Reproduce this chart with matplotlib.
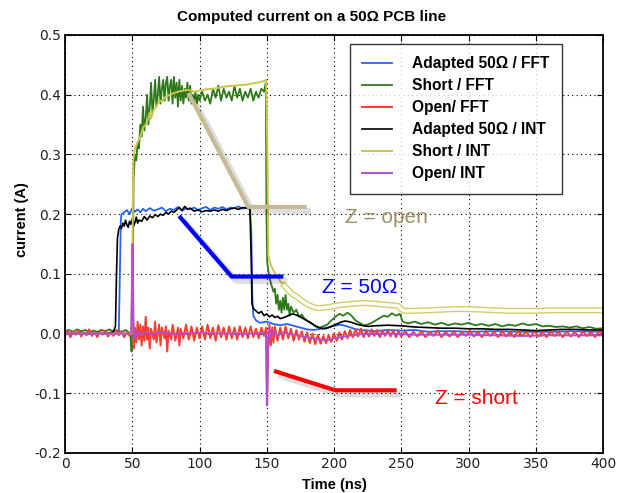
import matplotlib
matplotlib.use('Agg')
import matplotlib.pyplot as plt
import matplotlib.patheffects as pe
import numpy as np

# ---------------- data (time in ns, current in A) ----------------
adapted_fft = [(0, 0.0), (10, 0.001), (20, 0.0), (30, 0.001), (38, 0.002), (40, 0.003), (40.8, 0.1),
               (41.5, 0.19), (42, 0.2), (44, 0.203), (46, 0.207), (48, 0.2), (50, 0.21), (52, 0.204),
               (54, 0.208), (56, 0.203), (58, 0.209), (60, 0.205), (63, 0.21), (66, 0.206), (69, 0.208),
               (72, 0.211), (75, 0.205), (78, 0.209), (81, 0.207), (84, 0.212), (87, 0.206), (90, 0.21),
               (93, 0.208), (96, 0.211), (99, 0.207), (102, 0.21), (105, 0.212), (108, 0.207), (111, 0.211),
               (114, 0.209), (117, 0.212), (120, 0.208), (123, 0.211), (126, 0.21), (129, 0.213),
               (132, 0.209), (135, 0.212), (137.5, 0.21), (138.5, 0.17), (139.3, 0.06), (140, 0.03),
               (142, 0.022), (145, 0.018), (150, 0.02), (155, 0.016), (160, 0.014), (165, 0.016),
               (170, 0.013), (175, 0.01), (180, 0.007), (185, 0.006), (190, 0.008), (195, 0.01),
               (200, 0.013), (205, 0.015), (210, 0.012), (215, 0.008), (220, 0.006), (230, 0.004),
               (240, 0.006), (250, 0.005), (260, 0.006), (270, 0.003), (280, 0.004), (290, 0.004),
               (300, 0.003), (320, 0.004), (340, 0.003), (360, 0.003), (380, 0.004), (400, 0.003)]

short_fft = [(0, 0.004), (3, 0.006), (6, 0.003), (9, 0.007), (12, 0.004), (15, 0.006), (18, 0.002),
             (21, 0.005), (24, 0.003), (27, 0.006), (30, 0.004), (33, 0.007), (36, 0.003), (39, 0.005),
             (42, 0.002), (45, 0.006), (47, 0.003), (48.5, 0.0), (49.5, -0.03), (50.3, 0.05), (51, 0.26),
             (52, 0.3), (53, 0.29), (54, 0.32), (55, 0.31), (56, 0.35), (57, 0.33), (58, 0.38), (59, 0.34),
             (60, 0.36), (61, 0.4), (62, 0.35), (63, 0.38), (64, 0.42), (65, 0.37), (66, 0.39), (67, 0.425),
             (68, 0.38), (69, 0.4), (70, 0.43), (71, 0.385), (72, 0.41), (73, 0.425), (74, 0.39), (75, 0.42),
             (76, 0.43), (77, 0.39), (78, 0.415), (79, 0.425), (80, 0.385), (81, 0.43), (82, 0.395),
             (83, 0.42), (84, 0.38), (85, 0.425), (86, 0.39), (87, 0.415), (88, 0.385), (89, 0.41),
             (90, 0.395), (91, 0.42), (92, 0.39), (93, 0.415), (94, 0.385), (95, 0.40), (96, 0.39),
             (97, 0.405), (98, 0.385), (99, 0.4), (100, 0.39), (102, 0.405), (104, 0.39), (106, 0.4),
             (108, 0.385), (110, 0.41), (112, 0.395), (114, 0.415), (116, 0.39), (118, 0.41), (120, 0.395),
             (122, 0.405), (124, 0.39), (126, 0.415), (128, 0.395), (130, 0.41), (132, 0.39), (134, 0.405),
             (136, 0.395), (138, 0.41), (140, 0.39), (142, 0.405), (144, 0.395), (146, 0.41), (148, 0.405),
             (149.3, 0.42), (149.8, 0.2), (150.3, 0.12), (151.5, 0.1), (153, 0.085), (155, 0.07),
             (156, 0.075), (157, 0.05), (158, 0.065), (159, 0.04), (160, 0.055), (161, 0.035), (162, 0.06),
             (163, 0.04), (164, 0.065), (165, 0.04), (166, 0.05), (167, 0.03), (168, 0.045), (170, 0.035),
             (172, 0.04), (174, 0.028), (176, 0.032), (178, 0.025), (180, 0.022), (183, 0.018), (186, 0.012),
             (189, 0.01), (192, 0.012), (195, 0.015), (198, 0.022), (201, 0.028), (204, 0.033), (207, 0.03),
             (210, 0.035), (213, 0.03), (216, 0.022), (219, 0.018), (222, 0.014), (225, 0.015), (228, 0.018),
             (231, 0.022), (234, 0.026), (237, 0.03), (240, 0.028), (243, 0.034), (246, 0.03), (249, 0.033),
             (251, 0.02), (255, 0.017), (260, 0.02), (265, 0.016), (270, 0.019), (275, 0.015), (280, 0.018),
             (285, 0.014), (290, 0.017), (295, 0.015), (300, 0.018), (305, 0.014), (310, 0.016),
             (315, 0.013), (320, 0.016), (325, 0.012), (330, 0.015), (335, 0.013), (340, 0.017),
             (345, 0.014), (350, 0.016), (355, 0.012), (360, 0.013), (365, 0.011), (370, 0.012),
             (375, 0.01), (380, 0.012), (385, 0.009), (390, 0.011), (395, 0.008), (400, 0.009)]

open_fft = [(0, -0.004), (2, 0.005), (4, -0.006), (6, 0.003), (8, -0.002), (10, 0.006), (12, -0.005),
            (14, 0.002), (16, -0.003), (18, 0.007), (20, -0.004), (22, 0.003), (24, -0.006), (26, 0.004),
            (28, -0.002), (30, 0.005), (32, -0.005), (34, 0.003), (36, -0.004), (38, 0.006), (40, -0.003),
            (42, 0.004), (44, -0.006), (46, 0.003), (48, -0.004), (49.5, 0.0), (50, 0.14), (50.6, 0.02),
            (51.2, -0.025), (52, 0.01), (53, -0.015), (54, 0.02), (55, -0.01), (56, 0.015), (57, -0.02),
            (58, 0.012), (59, -0.012), (60, 0.028), (61, -0.01), (62, 0.01), (63, -0.025), (64, 0.008),
            (66, -0.01), (67, 0.02), (68, -0.015), (70, 0.015), (71, -0.02), (72, 0.01), (74, -0.008),
            (75, 0.012), (76, -0.03), (77, 0.005), (79, -0.01), (80, 0.015), (82, -0.012), (84, 0.01),
            (85, -0.02), (86, 0.008), (88, -0.008), (90, 0.015), (92, -0.01), (94, 0.012), (96, -0.012),
            (98, 0.01), (100, -0.008), (102, 0.012), (104, -0.01), (106, 0.015), (108, -0.008), (110, 0.01),
            (112, -0.012), (114, 0.014), (116, -0.006), (118, 0.01), (120, -0.01), (122, 0.012),
            (124, -0.008), (126, 0.01), (128, -0.01), (130, 0.012), (132, -0.006), (134, 0.01),
            (136, -0.008), (138, 0.012), (140, -0.006), (142, 0.008), (144, -0.008), (146, 0.01),
            (148, -0.004), (149.5, 0.01), (150.3, -0.12), (151, -0.03), (152, 0.015), (153, -0.02),
            (154, 0.01), (155, -0.015), (156, 0.012), (158, -0.012), (160, 0.01), (162, -0.01), (164, 0.012),
            (166, -0.008), (168, 0.008), (170, -0.012), (172, 0.006), (174, -0.01), (176, 0.004),
            (178, -0.014), (180, 0.002), (182, -0.016), (184, 0.0), (186, -0.018), (188, -0.002),
            (190, -0.017), (192, -0.004), (194, -0.016), (196, -0.003), (198, -0.014), (200, 0.0),
            (202, -0.012), (204, 0.002), (206, -0.01), (208, 0.004), (210, -0.008), (212, 0.006),
            (214, -0.006), (216, 0.007), (218, -0.005), (220, 0.008), (222, -0.006), (224, 0.006),
            (226, -0.005), (228, 0.007), (230, -0.004), (232, 0.006), (234, -0.006), (236, 0.005),
            (238, -0.004), (240, 0.006), (242, -0.005), (244, 0.005), (246, -0.006), (248, 0.004),
            (250, -0.005), (253, 0.004), (256, -0.006), (259, 0.003), (262, -0.005), (265, 0.004),
            (268, -0.006), (271, 0.003), (274, -0.004), (277, 0.005), (280, -0.006), (283, 0.003),
            (286, -0.005), (289, 0.004), (292, -0.006), (295, 0.003), (298, -0.004), (301, 0.005),
            (304, -0.005), (307, 0.003), (310, -0.006), (313, 0.004), (316, -0.004), (319, 0.003),
            (322, -0.006), (325, 0.004), (328, -0.005), (331, 0.003), (334, -0.006), (337, 0.004),
            (340, -0.004), (343, 0.003), (346, -0.006), (349, 0.004), (352, -0.005), (355, 0.003),
            (358, -0.006), (361, 0.004), (364, -0.004), (367, 0.003), (370, -0.006), (373, 0.004),
            (376, -0.005), (379, 0.003), (382, -0.006), (385, 0.004), (388, -0.004), (391, 0.003),
            (394, -0.006), (397, 0.004), (400, -0.004)]

adapted_int = [(0, 0.0), (10, 0.0), (20, 0.0), (30, 0.0), (35, 0.001), (36.5, 0.006), (37.5, 0.012),
               (38.3, 0.1), (39, 0.16), (40, 0.175), (41, 0.18), (42, 0.176), (43, 0.185), (44, 0.18),
               (45, 0.19), (46, 0.182), (47, 0.178), (48, 0.188), (49, 0.183), (50, 0.192), (51, 0.18),
               (52, 0.186), (53, 0.195), (54, 0.185), (55, 0.19), (57, 0.188), (59, 0.196), (61, 0.19),
               (63, 0.197), (65, 0.194), (67, 0.199), (69, 0.196), (71, 0.2), (73, 0.198), (75, 0.203),
               (77, 0.2), (79, 0.205), (81, 0.203), (83, 0.207), (85, 0.211), (87, 0.206), (89, 0.213),
               (91, 0.208), (93, 0.21), (96, 0.205), (99, 0.207), (102, 0.204), (105, 0.206), (108, 0.205),
               (111, 0.207), (114, 0.205), (117, 0.208), (120, 0.206), (123, 0.209), (126, 0.21),
               (129, 0.208), (132, 0.211), (135, 0.21), (137.5, 0.209), (138.5, 0.12), (139, 0.05),
               (140, 0.042), (142, 0.038), (144, 0.034), (146, 0.037), (148, 0.03), (150, 0.033),
               (152, 0.028), (154, 0.031), (156, 0.027), (158, 0.029), (160, 0.025), (163, 0.027),
               (166, 0.03), (169, 0.033), (172, 0.031), (175, 0.028), (178, 0.024), (181, 0.02),
               (184, 0.016), (187, 0.012), (190, 0.009), (193, 0.008), (196, 0.01), (199, 0.013),
               (202, 0.016), (205, 0.019), (208, 0.021), (211, 0.02), (214, 0.018), (218, 0.015),
               (222, 0.013), (226, 0.012), (230, 0.013), (240, 0.014), (250, 0.013), (260, 0.011),
               (270, 0.01), (280, 0.009), (290, 0.009), (300, 0.008), (310, 0.008), (320, 0.007),
               (330, 0.007), (340, 0.006), (350, 0.005), (360, 0.006), (370, 0.007), (380, 0.007),
               (390, 0.006), (400, 0.006)]

short_int = [(0, 0.0), (20, 0.0), (40, 0.0), (49.5, 0.0), (50.2, 0.15), (50.8, 0.29), (52, 0.31),
             (54, 0.32), (56, 0.33), (58, 0.345), (60, 0.35), (62, 0.36), (63, 0.37), (64, 0.36),
             (66, 0.375), (68, 0.38), (70, 0.39), (72, 0.388), (74, 0.395), (76, 0.398), (80, 0.402),
             (84, 0.405), (88, 0.407), (92, 0.408), (96, 0.405), (100, 0.407), (105, 0.409), (110, 0.41),
             (115, 0.412), (120, 0.414), (125, 0.415), (130, 0.416), (135, 0.417), (140, 0.419),
             (145, 0.421), (148, 0.423), (149.5, 0.425), (150.5, 0.3), (151.2, 0.13), (153, 0.115),
             (155, 0.105), (157, 0.098), (160, 0.088), (163, 0.08), (166, 0.073), (169, 0.066),
             (172, 0.062), (175, 0.057), (178, 0.052), (181, 0.048), (184, 0.045), (187, 0.043),
             (190, 0.043), (195, 0.044), (200, 0.046), (205, 0.048), (210, 0.049), (215, 0.05),
             (220, 0.051), (225, 0.051), (230, 0.05), (235, 0.049), (240, 0.048), (245, 0.047),
             (248, 0.046), (250, 0.041), (252, 0.038), (260, 0.038), (270, 0.039), (280, 0.04),
             (290, 0.041), (300, 0.041), (310, 0.04), (320, 0.039), (330, 0.038), (340, 0.038),
             (350, 0.038), (360, 0.039), (370, 0.039), (380, 0.039), (390, 0.039), (400, 0.039)]

open_int = [(0, 0.0), (48, 0.0), (49.3, 0.002), (49.8, 0.08), (50.2, 0.15), (50.7, 0.06), (51.2, -0.01),
            (52, 0.005), (53, -0.004), (55, 0.004), (57, -0.003), (60, 0.003), (65, -0.002), (70, 0.002),
            (80, 0.0), (100, 0.001), (120, 0.0), (140, 0.0), (148, 0.001), (149.5, -0.005),
            (150.1, -0.12), (150.8, -0.04), (151.5, 0.01), (153, -0.008), (155, 0.005), (158, -0.004),
            (162, 0.002), (170, -0.002), (180, -0.006), (190, -0.01), (195, -0.011), (200, -0.008),
            (210, -0.004), (220, -0.001), (240, 0.0), (260, -0.002), (280, -0.002), (300, -0.002),
            (320, -0.003), (340, -0.004), (360, -0.003), (380, -0.003), (400, -0.003)]

series_labels = ['Adapted 50Ω / FFT', 'Short / FFT', 'Open/ FFT',
                 'Adapted 50Ω / INT', 'Short / INT', 'Open/ INT']

# annotation pointer paths (time, current) and label anchors
open_pointer = [(91.7, 0.403), (136.3, 0.212), (179.7, 0.212)]
match_pointer = [(84.8, 0.197), (123.9, 0.0955), (162.3, 0.0955)]
short_pointer = [(155.4, -0.0626), (201.0, -0.0950), (246.6, -0.0950)]
open_label = (208.0, 0.194, 'Z = open')
match_label = (191.0, 0.077, 'Z = 50Ω')
short_label = (275.0, -0.108, 'Z = short')

x_ticks = [0, 50, 100, 150, 200, 250, 300, 350, 400]
y_ticks = [-0.2, -0.1, 0.0, 0.1, 0.2, 0.3, 0.4, 0.5]

# ---------------- figure ----------------
W, H = 628, 493
fig = plt.figure(figsize=(W / 100, H / 100), dpi=100)
ax = fig.add_axes([65 / W, 40 / H, 538 / W, 418 / H])

colors = ['#2563ff', '#2e7a1a', '#ff3b2b', '#000000', '#cdc64a', '#b24fd0']
data = [adapted_fft, short_fft, open_fft, adapted_int, short_int, open_int]
lws = [1.3, 1.3, 1.4, 1.2, 1.4, 1.4]

for d, c, lab, lw in zip(data, colors, series_labels, lws):
    arr = np.array(d)
    ax.plot(arr[:, 0], arr[:, 1], color=c, lw=lw, label=lab)

# doubled (outlined) look of the Short/INT tail
si = np.array(short_int)
tail = si[si[:, 0] >= 163]
ax.plot(tail[:, 0], tail[:, 1], color='#cdc64a', lw=1.0,
        path_effects=[pe.Stroke(linewidth=4.4, foreground='#d4cd66'),
                      pe.Stroke(linewidth=2.4, foreground='white')], zorder=2.5)

shadow = [pe.SimpleLineShadow(offset=(3, -3), shadow_color='black', alpha=0.13, linewidth=4.5), pe.Normal()]
for pts, c in [(open_pointer, '#c6bb95'), (match_pointer, '#0000ff'), (short_pointer, '#ff0000')]:
    p = np.array(pts)
    ax.plot(p[:, 0], p[:, 1], color=c, lw=3.0, solid_capstyle='butt', zorder=5, path_effects=shadow)

tfont = dict(family='Liberation Sans', fontsize=15)
ax.text(open_label[0], open_label[1], open_label[2], color='#9e9064', va='center', ha='left', **tfont)
ax.text(match_label[0], match_label[1], match_label[2], color='#0000ff', va='center', ha='left', **tfont)
ax.text(short_label[0], short_label[1], short_label[2], color='#ff0000', va='center', ha='left', **tfont)

ax.set_xlim(0, 400)
ax.set_ylim(-0.2, 0.5)
ax.set_xticks(x_ticks)
ax.set_yticks(y_ticks)
ax.set_xticklabels([str(v) for v in x_ticks])
ax.set_yticklabels([f'{v:.1f}' for v in y_ticks])
ax.tick_params(direction='in', length=4, width=0.8, top=True, right=True,
               labelsize=10, labelcolor='#222222', pad=3)
ax.grid(True, color='black', linestyle=(0, (1, 3)), linewidth=0.8)
for s in ax.spines.values():
    s.set_linewidth(1.3)

leg = ax.legend(loc='upper left', bbox_to_anchor=(0.5297, 0.9785), frameon=True, fancybox=False,
                prop=dict(family='Liberation Sans', weight='bold', size=11.2),
                handlelength=1.9, handletextpad=1.3, borderpad=0.8, labelspacing=0.45,
                borderaxespad=0.0)
leg.get_frame().set_edgecolor('black')
leg.get_frame().set_linewidth(1.0)
leg.set_zorder(10)

fig.text(311.5 / W, 1 - 17 / H, 'Computed current on a 50Ω PCB line', ha='center', va='center',
         family='Liberation Sans', weight='bold', fontsize=11)
fig.text(334 / W, 1 - 485 / H, 'Time (ns)', ha='center', va='center',
         family='Liberation Sans', weight='bold', fontsize=10.5)
fig.text(22 / W, 1 - 220 / H, 'current (A)', ha='center', va='center', rotation=90,
         family='Liberation Sans', weight='bold', fontsize=10.5)

fig.savefig('out.png', dpi=100)
